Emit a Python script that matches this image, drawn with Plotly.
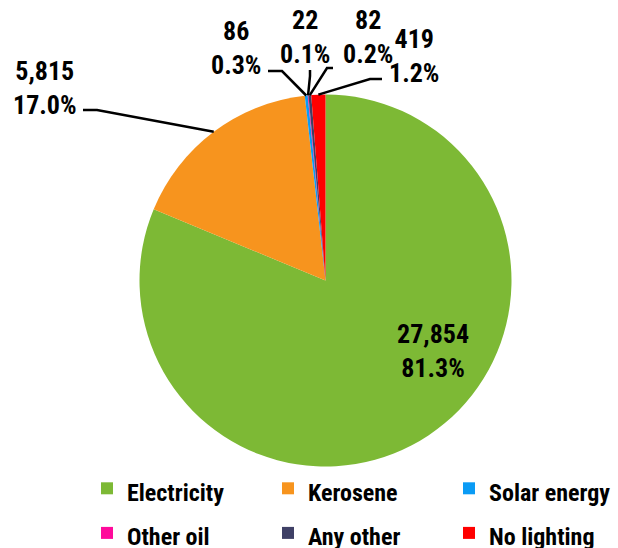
import math
import plotly.graph_objects as go

# ---- data ----
categories = ["Electricity", "Kerosene", "Solar energy", "Other oil", "Any other", "No lighting"]
values = [27854, 5815, 86, 22, 82, 419]
colors = ["#7DB935", "#F7941E", "#0A9BF5", "#FF0A9B", "#3F4066", "#FF0000"]

# label placement (pixel positions of label text, leader start/elbow) - layout only
label_pos = {
    "Electricity": (433, 351),
    "Kerosene": (45, 88),
    "Solar energy": (236, 48),
    "Other oil": (305, 37),
    "Any other": (368, 37),
    "No lighting": (414, 56),
}
leader_pts = {
    "Kerosene": [(83, 110), (97, 110)],
    "Solar energy": [(268, 71), (282, 71)],
    "Other oil": [(310, 70), (310, 76)],
    "Any other": [(333, 68), (327, 68)],
    "No lighting": [(382, 79), (370, 79)],
}

W, H = 618, 548
CX, CY, R = 325.5, 280.5, 186
FONT = "Liberation Sans Narrow, Arial Narrow, Roboto Condensed, DejaVu Sans Condensed, sans-serif"
LEGEND_TEXT_SIZE = 24

def px(x):
    return x / W

def py(y):
    return 1 - y / H

legend_labels = [f'<span style="font-size:{LEGEND_TEXT_SIZE}px">{c}</span>' for c in categories]

fig = go.Figure(go.Pie(
    labels=legend_labels,
    values=values,
    marker=dict(colors=colors, line=dict(width=0)),
    sort=False,
    direction="clockwise",
    rotation=0,
    textinfo="none",
    hovertemplate="%{customdata}: %{value:,} (%{percent})<extra></extra>",
    customdata=categories,
    domain=dict(x=[px(CX - R), px(CX + R)], y=[py(CY + R), py(CY - R)]),
))

total = sum(values)
cum = 0.0
annotations = []
shapes = []
for cat, v in zip(categories, values):
    start = cum
    cum += v / total
    mid = (start + cum) / 2
    theta = 2 * math.pi * mid
    rx = CX + R * math.sin(theta)
    ry = CY - R * math.cos(theta)
    tx, ty = label_pos[cat]
    annotations.append(dict(
        x=px(tx), y=py(ty), xref="paper", yref="paper",
        text=f"{v:,}<br>{100 * v / total:.1f}%",
        showarrow=False, xanchor="center", yanchor="middle",
        font=dict(family=FONT, size=26, color="#000000", weight="bold"),
    ))
    if cat in leader_pts:
        pts = leader_pts[cat] + [(rx, ry)]
        path = "M " + " L ".join(f"{px(a):.5f},{py(b):.5f}" for a, b in pts)
        shapes.append(dict(type="path", path=path, xref="paper", yref="paper",
                           line=dict(color="#000000", width=2.5)))

fig.update_layout(
    width=W, height=H,
    margin=dict(l=0, r=0, t=0, b=0, autoexpand=False),
    paper_bgcolor="white",
    plot_bgcolor="white",
    annotations=annotations,
    shapes=shapes,
    showlegend=True,
    legend=dict(
        orientation="h",
        x=px(87), xanchor="left",
        y=py(461), yanchor="top",
        entrywidth=136, entrywidthmode="pixels",
        font=dict(family=FONT, size=32, color="#000000", weight="bold"),
        traceorder="normal",
        bgcolor="rgba(0,0,0,0)",
    ),
)

fig.write_html(
    "out.html",
    config={"displayModeBar": False},
    post_script="document.body.style.margin='0';document.body.style.overflow='hidden';",
)
